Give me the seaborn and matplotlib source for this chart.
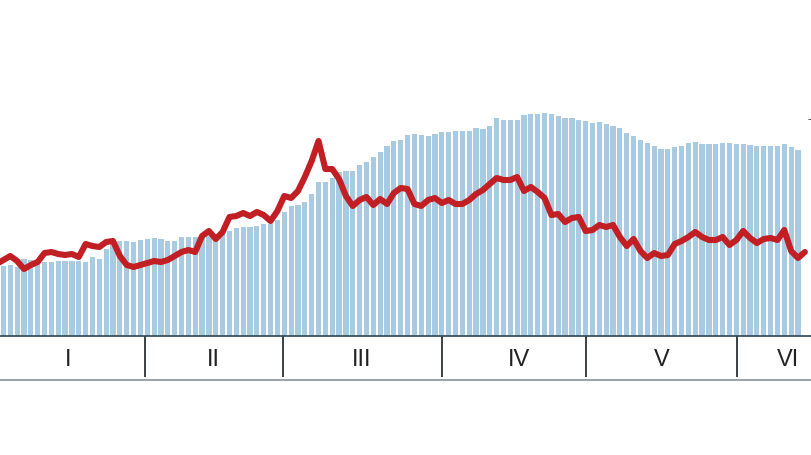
import numpy as np
import pandas as pd
import seaborn as sns
import matplotlib.pyplot as plt

# bar series (one bar per period step)
bar_values = [70, 71, 69, 77, 76, 75, 74, 74, 75, 75, 75, 75, 74, 79, 77, 87, 92, 95, 95, 94,
              96, 97, 98, 97, 95, 95, 99, 99, 99, 100, 100, 99, 102, 105, 108, 109, 109, 110, 112, 112,
              116, 124, 130, 131, 134, 142, 154, 154, 158, 164, 165, 165, 171, 174, 179, 184, 190, 195, 196, 201,
              202, 201, 200, 202, 204, 204, 205, 205, 205, 208, 207, 210, 218, 216, 216, 216, 221, 222, 222, 223,
              222, 220, 218, 218, 216, 215, 213, 214, 212, 210, 208, 203, 200, 196, 193, 190, 187, 187, 189, 190,
              193, 194, 192, 192, 192, 193, 193, 192, 192, 191, 190, 190, 190, 190, 192, 189, 186]

# red line series, starts one step before the first bar
line_start = -1
line_values = [72, 76, 80, 75, 67, 71, 74, 83, 84, 82, 81, 82, 79, 92, 90, 89, 94, 95, 80, 71,
               69, 71, 73, 75, 74, 76, 80, 84, 86, 84, 100, 105, 97, 104, 119, 120, 123, 120, 124, 121,
               115, 125, 140, 138, 145, 159, 175, 195, 167, 167, 157, 140, 130, 136, 139, 131, 137, 132, 143, 148,
               147, 132, 130, 136, 138, 133, 136, 132, 132, 136, 142, 146, 152, 158, 156, 156, 159, 145, 149, 144,
               138, 121, 122, 114, 118, 119, 105, 106, 111, 109, 111, 99, 90, 97, 85, 78, 83, 80, 81, 92,
               95, 99, 104, 99, 96, 96, 99, 91, 96, 105, 98, 93, 97, 98, 96, 106, 85, 78, 84]

# period band
period_labels = ['I', 'II', 'III', 'IV', 'V', 'VI']
period_centres = [9.4, 30.6, 52.3, 75.3, 96.1, 114.5]
period_bounds = [20.7, 40.8, 64.0, 85.1, 107.1]

bar_color = '#a9cbe2'
line_color = '#c21f24'

bars = pd.DataFrame({'step': np.arange(len(bar_values)), 'value': bar_values})
line = pd.DataFrame({'step': np.arange(len(line_values)) + line_start, 'value': line_values})

sns.set_style('white')
plt.rcParams['font.family'] = ['Liberation Sans Narrow', 'Liberation Sans', 'DejaVu Sans']

fig = plt.figure(figsize=(8.11, 4.56), dpi=100)
ax = fig.add_axes([0, 119 / 456, 1, 337 / 456])
band = fig.add_axes([0, 75 / 456, 1, 44 / 456])

sns.barplot(data=bars, x='step', y='value', color=bar_color, saturation=1,
            width=0.76, native_scale=True, linewidth=0, ax=ax)
sns.lineplot(data=line, x='step', y='value', color=line_color, linewidth=4.4,
             ax=ax, solid_joinstyle='round', solid_capstyle='round')

xlim = (-0.5, 117.9)
ax.set_xlim(xlim)
ax.set_ylim(0, 337)
ax.axis('off')

# period band under the bars
band.set_xlim(xlim)
band.set_ylim(0, 1)
band.set_xticks([])
band.set_yticks([])
for side in ['left', 'right']:
    band.spines[side].set_visible(False)
band.spines['top'].set_color('#2d4650')
band.spines['top'].set_linewidth(1.2)
band.spines['bottom'].set_color('#8e9ca2')
band.spines['bottom'].set_linewidth(1.3)
band.vlines(period_bounds, 0.07, 1, color='#3a3f42', linewidth=1.4)
for lab, xc in zip(period_labels, period_centres):
    band.text(xc, 0.48, lab, ha='center', va='center', fontsize=17, color='#222222')

# cut-off mark at the right edge
fig.text(0.9985, 1 - 120 / 456, '-', ha='center', va='center', fontsize=9, color='#333333')

plt.savefig('out.png', dpi=100)
